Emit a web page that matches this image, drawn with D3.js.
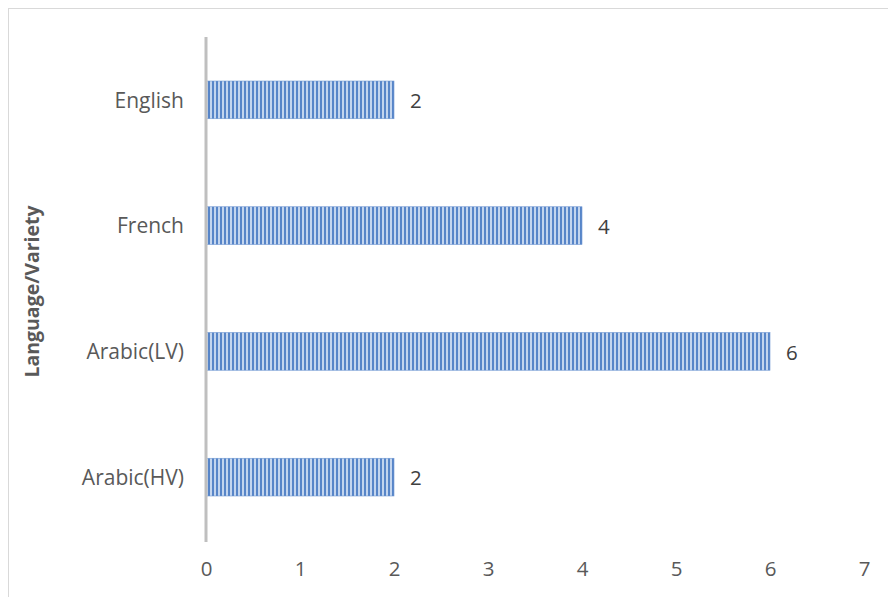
<!DOCTYPE html>
<html>
<head>
<meta charset="utf-8">
<script src="https://cdn.jsdelivr.net/npm/d3@7"></script>
<style>
  html, body { margin: 0; padding: 0; background: #fff; }
  svg { display: block; font-family: "Open Sans", Lato, sans-serif; }
</style>
</head>
<body>
<svg id="chart" width="888" height="597"></svg>
<script>
// Categories, listed bottom to top as drawn
const categories = ["Arabic(HV)", "Arabic(LV)", "French", "English"];
const counts = [2, 6, 4, 2];
const xTicks = [0, 1, 2, 3, 4, 5, 6, 7];
const yTitle = "Language/Variety";

const FONT = "'Open Sans', Lato, sans-serif";
const svg = d3.select("#chart");
const W = 888, H = 597;
const margin = { left: 206, right: 24, top: 37, bottom: 57 };

// Outer chart-area frame
svg.append("rect")
  .attr("x", 8.5).attr("y", 8.5)
  .attr("width", W + 10).attr("height", H + 10)
  .attr("fill", "none").attr("stroke", "#d9d9d9").attr("stroke-width", 1);

// Vertical-stripe fill for the bars
const defs = svg.append("defs");
const pat = defs.append("pattern")
  .attr("id", "stripes").attr("patternUnits", "userSpaceOnUse")
  .attr("width", 4).attr("height", 4);
pat.append("rect").attr("width", 4).attr("height", 4).attr("fill", "#c3d5ee");
pat.append("rect").attr("width", 2).attr("height", 4).attr("fill", "#5785c8");

const x = d3.scaleLinear().domain([0, 7]).range([margin.left, W - margin.right]);
const y = d3.scaleBand().domain(categories.slice().reverse())
  .range([margin.top, H - margin.bottom]).paddingInner(0.7).paddingOuter(0.35);

// Bars
svg.append("g").selectAll("rect").data(categories).join("rect")
  .attr("x", x(0))
  .attr("y", d => y(d))
  .attr("width", (d, i) => x(counts[i]) - x(0))
  .attr("height", y.bandwidth())
  .attr("fill", "url(#stripes)")
  .attr("stroke", "#6f97d2").attr("stroke-width", 0.6);

// Value labels
svg.append("g").selectAll("text").data(categories).join("text")
  .attr("x", (d, i) => x(counts[i]) + 16)
  .attr("y", d => y(d) + y.bandwidth() / 2 + 1)
  .attr("dy", "0.35em")
  .attr("fill", "#404040").attr("font-size", 20.5)
  .attr("font-family", FONT)
  .text((d, i) => counts[i]);

// Category axis line
svg.append("line")
  .attr("x1", x(0)).attr("x2", x(0))
  .attr("y1", margin.top).attr("y2", H - margin.bottom + 2)
  .attr("stroke", "#bfbfbf").attr("stroke-width", 3);

// Category labels
const yAxis = svg.append("g")
  .attr("transform", `translate(${x(0) - 2},1)`)
  .call(d3.axisLeft(y).tickSize(0).tickPadding(20));
yAxis.select(".domain").remove();
yAxis.selectAll("text").attr("fill", "#595959").attr("font-size", 21)
  .attr("font-family", FONT);

// Value axis tick labels
const xAxis = svg.append("g")
  .attr("transform", `translate(0,${H - margin.bottom})`)
  .call(d3.axisBottom(x).tickValues(xTicks).tickFormat(d3.format("d")).tickSize(0).tickPadding(21));
xAxis.select(".domain").remove();
xAxis.selectAll("text").attr("fill", "#595959").attr("font-size", 20.5)
  .attr("font-family", FONT);

// Axis title
svg.append("text")
  .attr("transform", `translate(39,${(margin.top + H - margin.bottom) / 2 + 3}) rotate(-90)`)
  .attr("text-anchor", "middle")
  .attr("fill", "#595959").attr("font-size", 19.5).attr("font-weight", "bold")
  .attr("font-family", FONT)
  .text(yTitle);
</script>
</body>
</html>
